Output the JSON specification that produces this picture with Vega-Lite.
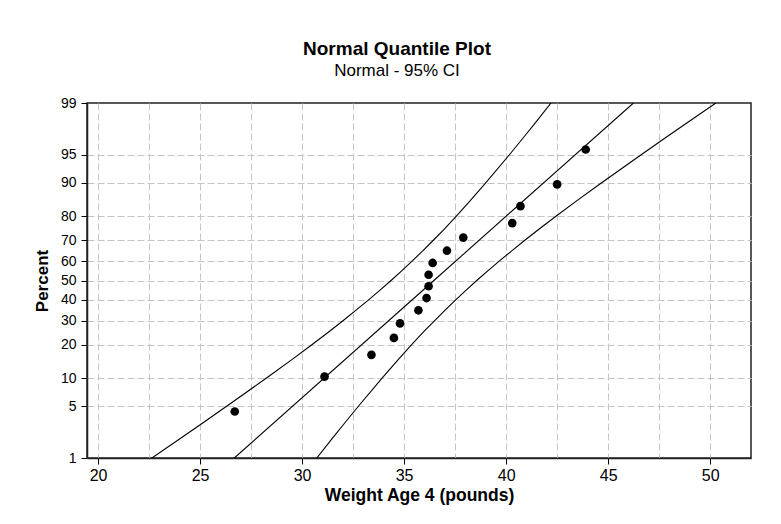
{
  "$schema": "https://vega.github.io/schema/vega-lite/v6.json",
  "width": 664,
  "height": 355,
  "autosize": {"type": "none"},
  "padding": {"left": 87, "top": 103, "right": 30, "bottom": 66},
  "background": "white",
  "title": {
    "text": "Normal Quantile Plot",
    "subtitle": "Normal - 95% CI",
    "anchor": "middle",
    "frame": "group",
    "dx": -22,
    "offset": 17,
    "font": "Liberation Sans",
    "fontSize": 19,
    "fontWeight": "bold",
    "color": "#000000",
    "subtitleFont": "Liberation Sans",
    "subtitleFontSize": 17,
    "subtitleColor": "#000000",
    "subtitlePadding": 4
  },
  "data": {
    "values": [
      {"series": "Data", "weight": 26.7, "percent": 4.3},
      {"series": "Data", "weight": 31.1, "percent": 10.4},
      {"series": "Data", "weight": 33.4, "percent": 16.5},
      {"series": "Data", "weight": 34.5, "percent": 22.6},
      {"series": "Data", "weight": 34.8, "percent": 28.7},
      {"series": "Data", "weight": 35.7, "percent": 34.8},
      {"series": "Data", "weight": 36.1, "percent": 40.9},
      {"series": "Data", "weight": 36.2, "percent": 47.0},
      {"series": "Data", "weight": 36.2, "percent": 53.0},
      {"series": "Data", "weight": 36.4, "percent": 59.1},
      {"series": "Data", "weight": 37.1, "percent": 65.2},
      {"series": "Data", "weight": 37.9, "percent": 71.3},
      {"series": "Data", "weight": 40.3, "percent": 77.4},
      {"series": "Data", "weight": 40.7, "percent": 83.5},
      {"series": "Data", "weight": 42.5, "percent": 89.6},
      {"series": "Data", "weight": 43.9, "percent": 95.7},
      {"series": "Fit", "weight": 26.68, "percent": 1},
      {"series": "Fit", "weight": 36.46, "percent": 50},
      {"series": "Fit", "weight": 46.24, "percent": 99},
      {"series": "Lower", "weight": 22.64, "percent": 1},
      {"series": "Lower", "weight": 24.12, "percent": 2},
      {"series": "Lower", "weight": 25.06, "percent": 3},
      {"series": "Lower", "weight": 26.32, "percent": 5},
      {"series": "Lower", "weight": 28.24, "percent": 10},
      {"series": "Lower", "weight": 29.5, "percent": 15},
      {"series": "Lower", "weight": 30.48, "percent": 20},
      {"series": "Lower", "weight": 31.3, "percent": 25},
      {"series": "Lower", "weight": 32.02, "percent": 30},
      {"series": "Lower", "weight": 32.66, "percent": 35},
      {"series": "Lower", "weight": 33.26, "percent": 40},
      {"series": "Lower", "weight": 33.82, "percent": 45},
      {"series": "Lower", "weight": 34.36, "percent": 50},
      {"series": "Lower", "weight": 34.88, "percent": 55},
      {"series": "Lower", "weight": 35.39, "percent": 60},
      {"series": "Lower", "weight": 35.9, "percent": 65},
      {"series": "Lower", "weight": 36.42, "percent": 70},
      {"series": "Lower", "weight": 36.97, "percent": 75},
      {"series": "Lower", "weight": 37.55, "percent": 80},
      {"series": "Lower", "weight": 38.21, "percent": 85},
      {"series": "Lower", "weight": 39.01, "percent": 90},
      {"series": "Lower", "weight": 40.15, "percent": 95},
      {"series": "Lower", "weight": 40.87, "percent": 97},
      {"series": "Lower", "weight": 41.39, "percent": 98},
      {"series": "Lower", "weight": 42.2, "percent": 99},
      {"series": "Upper", "weight": 30.72, "percent": 1},
      {"series": "Upper", "weight": 31.53, "percent": 2},
      {"series": "Upper", "weight": 32.05, "percent": 3},
      {"series": "Upper", "weight": 32.77, "percent": 5},
      {"series": "Upper", "weight": 33.91, "percent": 10},
      {"series": "Upper", "weight": 34.71, "percent": 15},
      {"series": "Upper", "weight": 35.37, "percent": 20},
      {"series": "Upper", "weight": 35.95, "percent": 25},
      {"series": "Upper", "weight": 36.5, "percent": 30},
      {"series": "Upper", "weight": 37.02, "percent": 35},
      {"series": "Upper", "weight": 37.53, "percent": 40},
      {"series": "Upper", "weight": 38.04, "percent": 45},
      {"series": "Upper", "weight": 38.56, "percent": 50},
      {"series": "Upper", "weight": 39.1, "percent": 55},
      {"series": "Upper", "weight": 39.66, "percent": 60},
      {"series": "Upper", "weight": 40.26, "percent": 65},
      {"series": "Upper", "weight": 40.9, "percent": 70},
      {"series": "Upper", "weight": 41.62, "percent": 75},
      {"series": "Upper", "weight": 42.44, "percent": 80},
      {"series": "Upper", "weight": 43.42, "percent": 85},
      {"series": "Upper", "weight": 44.68, "percent": 90},
      {"series": "Upper", "weight": 46.6, "percent": 95},
      {"series": "Upper", "weight": 47.86, "percent": 97},
      {"series": "Upper", "weight": 48.8, "percent": 98},
      {"series": "Upper", "weight": 50.28, "percent": 99}
    ]
  },
  "transform": [{"calculate": "quantileNormal(datum.percent / 100)", "as": "z"}],
  "encoding": {
    "x": {
      "field": "weight",
      "type": "quantitative",
      "scale": {"domain": [19.46, 52], "nice": false, "zero": false},
      "axis": {
        "values": [20, 22.5, 25, 27.5, 30, 32.5, 35, 37.5, 40, 42.5, 45, 47.5, 50],
        "labelExpr": "datum.value % 5 === 0 ? datum.label : ''",
        "tickOpacity": {"condition": {"test": "datum.value % 5 !== 0", "value": 0}, "value": 1},
        "title": "Weight Age 4 (pounds)",
        "titleFontSize": 17.5,
        "labelFontSize": 16,
        "tickSize": 6,
        "labelPadding": 3,
        "titlePadding": 3
      }
    },
    "y": {
      "field": "z",
      "type": "quantitative",
      "scale": {"domain": [-2.3263, 2.3263], "nice": false, "zero": false},
      "axis": {
        "values": [-2.3263, -1.6449, -1.2816, -0.8416, -0.5244, -0.2533, 0, 0.2533, 0.5244, 0.8416, 1.2816, 1.6449, 2.3263],
        "labelExpr": "format(round(cumulativeNormal(datum.value) * 100), 'd')",
        "gridOpacity": {"condition": {"test": "abs(datum.value) > 2.3", "value": 0}, "value": 1},
        "title": "Percent",
        "titleFontSize": 17,
        "labelFontSize": 14,
        "tickSize": 6,
        "labelPadding": 5,
        "titlePadding": 9
      }
    }
  },
  "layer": [
    {
      "transform": [{"filter": "datum.series !== 'Data'"}],
      "mark": {"type": "line", "color": "#000000", "strokeWidth": 1.1, "clip": true},
      "encoding": {
        "detail": {"field": "series"},
        "order": {"field": "percent", "type": "quantitative"}
      }
    },
    {
      "transform": [{"filter": "datum.series === 'Data'"}],
      "mark": {"type": "point", "shape": "circle", "filled": true, "color": "#000000", "opacity": 1, "size": 75}
    }
  ],
  "config": {
    "view": {"stroke": "#222222", "strokeWidth": 1.5},
    "axis": {
      "labelFont": "Liberation Sans",
      "titleFont": "Liberation Sans",
      "titleFontWeight": "bold",
      "labelColor": "#000000",
      "titleColor": "#000000",
      "domainColor": "#222222",
      "domainWidth": 1.5,
      "tickColor": "#000000",
      "grid": true,
      "gridColor": "#c4c4c4",
      "gridDash": [7, 3],
      "gridWidth": 1
    }
  }
}
